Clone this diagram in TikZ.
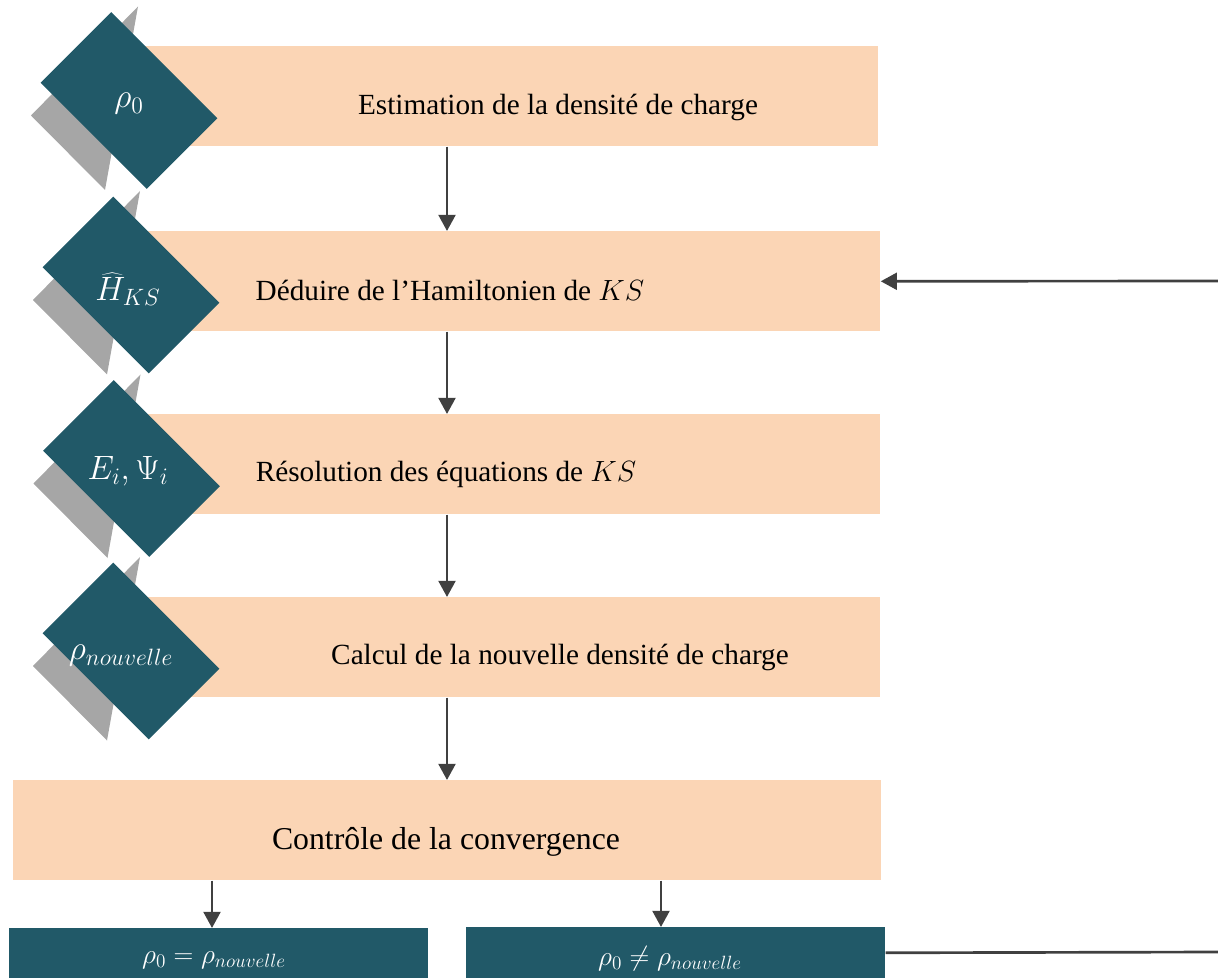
\RequirePackage{fix-cm}
\documentclass[tikz,border=0pt]{standalone}
\usepackage{fontspec}
\setmainfont{Liberation Serif}
\usetikzlibrary{arrows.meta,calc}
\definecolor{peach}{HTML}{FBD5B5}
\definecolor{deepteal}{HTML}{215968}
\definecolor{shadowgrey}{HTML}{A6A6A6}
\definecolor{arrowgrey}{HTML}{404040}
\begin{document}
\begin{tikzpicture}[x=0.025cm,y=-0.025cm,
  stepbox/.style={fill=peach, inner sep=0pt, minimum height=2.5cm, anchor=north west},
  resultbox/.style={fill=deepteal, inner sep=0pt, minimum width=10.475cm, minimum height=1.275cm, anchor=north west},
  tilebox/.style={fill=deepteal, inner sep=0pt, minimum width=3.75cm, minimum height=2.5cm, rotate=-45},
  steptext/.style={font=\fontsize{20.8}{24}\selectfont, inner sep=0pt},
  tiletext/.style={text=white, font=\fontsize{24}{28}\selectfont, inner sep=0pt},
  resulttext/.style={text=white, font=\fontsize{19.5}{22}\selectfont, inner sep=0pt},
  flow/.style={draw=arrowgrey, line width=1.9pt, -{Triangle[length=11.5pt,width=12pt]}},
  link/.style={draw=arrowgrey, line width=1.9pt}]
\useasboundingbox (0,0) rectangle (1218,978);

% process steps
\node[stepbox, minimum width=18.45cm] (b1) at (140,46) {};
\node[stepbox, minimum width=18.5cm] (b2) at (140,231) {};
\node[stepbox, minimum width=18.5cm] (b3) at (140,414) {};
\node[stepbox, minimum width=18.5cm] (b4) at (140,597) {};
\node[stepbox, minimum width=21.675cm] (b5) at (13,780) {};

\node[steptext] (t1) at (558,107) {Estimation de la densité de charge};
\node[steptext] (t2) at (450,290) {Déduire de l'Hamiltonien de $KS$};
\node[steptext] (t3) at (446,474) {Résolution des équations de $KS$};
\node[steptext] (t4) at (560,657) {Calcul de la nouvelle densité de charge};
\node[steptext, font=\fontsize{22.6}{26}\selectfont] (t5) at (446,842) {Contrôle de la convergence};

% outcomes
\node[resultbox] (r1) at (9,928) {};
\node[resultbox] (r2) at (466,927) {};
\node[resulttext] (rl1) at (214,960) {$\rho_0 = \rho_{nouvelle}$};
\node[resulttext] (rl2) at (670,959) {$\rho_0 \neq \rho_{nouvelle}$};

% shadowed tiles on the left of each step
\foreach \name/\cx/\cy in {d1/129/100.5, d2/131/285, d3/131.5/468.5, d4/131/651} {
  \coordinate (\name c) at (\cx,\cy);
  \fill[shadowgrey] ($(\name c)+(9,-94)$) -- ($(\name c)+(-98,15)$) -- ($(\name c)+(-24,89.5)$) -- cycle;
  \node[tilebox] (\name) at (\name c) {};
}
\node[tiletext] (l1) at (129,104) {$\rho_0$};
\node[tiletext] (l2) at (128,289) {$\widehat{H}_{KS}$};
\node[tiletext] (l3) at (128,471) {$E_i,\Psi_i$};
\node[tiletext] (l4) at (121,656) {$\rho_{nouvelle}$};

% connectors
\coordinate (mx) at (447,0);
\coordinate (lx) at (212,0);
\coordinate (rx) at (661,0);
\coordinate (fb) at (1218,281);
\coordinate (fe) at (1218,952);
\draw[flow] (b1.south -| mx) -- (b2.north -| mx);
\draw[flow] (b2.south -| mx) -- (b3.north -| mx);
\draw[flow] (b3.south -| mx) -- (b4.north -| mx);
\draw[flow] (b4.south -| mx) -- (b5.north -| mx);
\draw[flow] (b5.south -| lx) -- (r1.north -| lx);
\draw[flow] (b5.south -| rx) -- (r2.north -| rx);
\draw[flow] (fb) -- (b2.east);
\draw[link] (r2.east) -- (fe);
\end{tikzpicture}
\end{document}
